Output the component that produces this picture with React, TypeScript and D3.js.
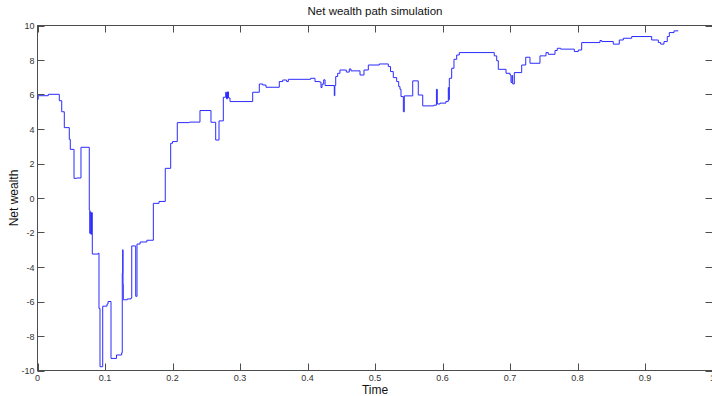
import React from "react";
import * as d3 from "d3";

// Simulated net wealth path: jump times and the level held after each jump
const times = [
  0.0, 0.001, 0.016, 0.0323, 0.0359, 0.0397, 0.0471, 0.0486, 0.0541, 0.058, 0.0644,
  0.0767, 0.0775, 0.078, 0.079, 0.08, 0.0812, 0.0901, 0.0911, 0.0926, 0.0966, 0.103,
  0.1045, 0.1089, 0.117, 0.1247, 0.1256, 0.1262, 0.1267, 0.1271, 0.133, 0.1385,
  0.1396, 0.1455, 0.1474, 0.152, 0.162, 0.1716, 0.18, 0.1893, 0.1973, 0.2, 0.2071,
  0.225, 0.2407, 0.257, 0.264, 0.2689, 0.2753, 0.2788, 0.28, 0.2815, 0.283, 0.2852,
  0.3188, 0.3286, 0.3336, 0.3385, 0.3582, 0.3633, 0.369, 0.3716, 0.4047, 0.4111,
  0.418, 0.42, 0.4215, 0.424, 0.426, 0.4397, 0.4405, 0.4418, 0.4447, 0.4481, 0.4575,
  0.4619, 0.4644, 0.4778, 0.4837, 0.4901, 0.5064, 0.5197, 0.523, 0.5271, 0.5321,
  0.5351, 0.537, 0.5385, 0.542, 0.5434, 0.5559, 0.5641, 0.5707, 0.587, 0.591, 0.5923,
  0.5963, 0.605, 0.6086, 0.6095, 0.6101, 0.6136, 0.617, 0.621, 0.6249, 0.6767,
  0.6803, 0.6827, 0.6941, 0.7, 0.7015, 0.703, 0.704, 0.7064, 0.7173, 0.7233, 0.7296,
  0.7444, 0.7533, 0.7567, 0.7667, 0.77, 0.7751, 0.7953, 0.8012, 0.8062, 0.8333,
  0.8358, 0.853, 0.8619, 0.8679, 0.8803, 0.9099, 0.9197, 0.9233, 0.9281, 0.933,
  0.936, 0.943, 0.9493,
];

const wealth = [
  5.72, 5.93, 6.01, 5.64, 5.0, 4.08, 3.4, 2.82, 1.14, 1.16, 2.94,
  -0.7, -2.05, -0.8, -2.1, -0.85, -3.25, -3.2, -6.4, -9.78, -6.27, -6.15,
  -6.0, -9.3, -9.1, -8.97, -4.35, -3.0, -5.0, -5.9, -5.85, -5.8,
  -2.78, -5.7, -2.67, -2.55, -2.45, -0.31, -0.2, 1.72, 3.17, 3.27, 4.37,
  4.4, 5.07, 4.39, 3.36, 4.47, 5.84, 6.13, 5.75, 6.15, 5.8, 5.59,
  6.13, 6.61, 6.55, 6.42, 6.75, 6.84, 6.75, 6.88, 6.94, 6.75,
  6.72, 6.4, 6.6, 6.85, 6.52, 5.93, 6.52, 7.04, 7.23, 7.42, 7.3,
  7.48, 7.37, 7.13, 7.42, 7.71, 7.77, 7.62, 7.33, 6.98, 6.75,
  6.46, 6.3, 5.88, 5.0, 5.92, 6.79, 5.97, 5.34, 5.38, 6.3, 5.45,
  5.5, 5.6, 6.4, 5.7, 6.94, 7.52, 8.04, 8.29, 8.43, 8.24,
  7.96, 7.46, 7.23, 7.13, 6.7, 7.1, 6.61, 7.27, 7.71, 8.16, 7.81,
  8.24, 8.43, 8.33, 8.55, 8.68, 8.63, 8.49, 8.58, 9.01, 9.13,
  9.07, 8.92, 9.16, 9.26, 9.36, 9.16, 9.01, 8.92, 9.07, 9.36,
  9.59, 9.69, 9.69,
];

const xTicks = [0, 0.1, 0.2, 0.3, 0.4, 0.5, 0.6, 0.7, 0.8, 0.9, 1];
const xTickLabels = ["0", "0.1", "0.2", "0.3", "0.4", "0.5", "0.6", "0.7", "0.8", "0.9", "1"];
const yTicks = [-10, -8, -6, -4, -2, 0, 2, 4, 6, 8, 10];
const yTickLabels = ["-10", "-8", "-6", "-4", "-2", "0", "2", "4", "6", "8", "10"];

const W = 712;
const H = 396;
const left = 37.5;
const right = 712.5;
const top = 25.5;
const bottom = 370.5;
const tickLen = 7;
const axisColor = "#4d4d4d";
const font = "'Liberation Sans', Arial, Helvetica, sans-serif";

export default function App() {
  const x = d3.scaleLinear().domain([0, 1]).range([left, right]);
  const y = d3.scaleLinear().domain([-10, 10]).range([bottom, top]);

  const points: [number, number][] = times.map((t, i) => [t, wealth[i]]);
  const path = d3
    .line<[number, number]>()
    .x((d) => x(d[0]))
    .y((d) => y(d[1]))
    .curve(d3.curveStepAfter)(points);

  return (
    <div style={{ position: "absolute", left: 0, top: 0 }}>
      <svg width={W} height={H} style={{ display: "block", background: "#fff" }}>
        <rect x={0} y={0} width={W} height={H} fill="#fff" />
        {/* plot box */}
        <rect
          x={left}
          y={top}
          width={right - left}
          height={bottom - top}
          fill="#fff"
          stroke={axisColor}
          strokeWidth={1}
        />
        {/* x ticks, bottom and top */}
        {xTicks.map((t, i) => (
          <g key={"xt" + i}>
            <line x1={Math.round(x(t)) + 0.5} x2={Math.round(x(t)) + 0.5} y1={bottom} y2={bottom - tickLen} stroke={axisColor} />
            <line x1={Math.round(x(t)) + 0.5} x2={Math.round(x(t)) + 0.5} y1={top} y2={top + tickLen} stroke={axisColor} />
            <text
              x={x(t)}
              y={bottom + 10.5}
              textAnchor="middle"
              fontFamily={font}
              fontSize={9}
              fill="#333"
            >
              {xTickLabels[i]}
            </text>
          </g>
        ))}
        {/* y ticks, left and right */}
        {yTicks.map((v, i) => (
          <g key={"yt" + i}>
            <line x1={left} x2={left + tickLen} y1={Math.round(y(v)) + 0.5} y2={Math.round(y(v)) + 0.5} stroke={axisColor} />
            <line x1={right} x2={right - tickLen} y1={Math.round(y(v)) + 0.5} y2={Math.round(y(v)) + 0.5} stroke={axisColor} />
            <text
              x={left - 3}
              y={y(v) + 3.5}
              textAnchor="end"
              fontFamily={font}
              fontSize={9}
              fill="#333"
            >
              {yTickLabels[i]}
            </text>
          </g>
        ))}
        {/* wealth path */}
        <path d={path ?? ""} fill="none" stroke="#2b2bff" strokeWidth={1} />
        {/* titles */}
        <text x={(left + right) / 2} y={15} textAnchor="middle" fontFamily={font} fontSize={11.5} fill="#111">
          Net wealth path simulation
        </text>
        <text x={(left + right) / 2} y={394} textAnchor="middle" fontFamily={font} fontSize={12} fill="#111">
          Time
        </text>
        <text
          transform={`translate(18, ${(top + bottom) / 2}) rotate(-90)`}
          textAnchor="middle"
          fontFamily={font}
          fontSize={12}
          fill="#111"
        >
          Net wealth
        </text>
      </svg>
    </div>
  );
}
